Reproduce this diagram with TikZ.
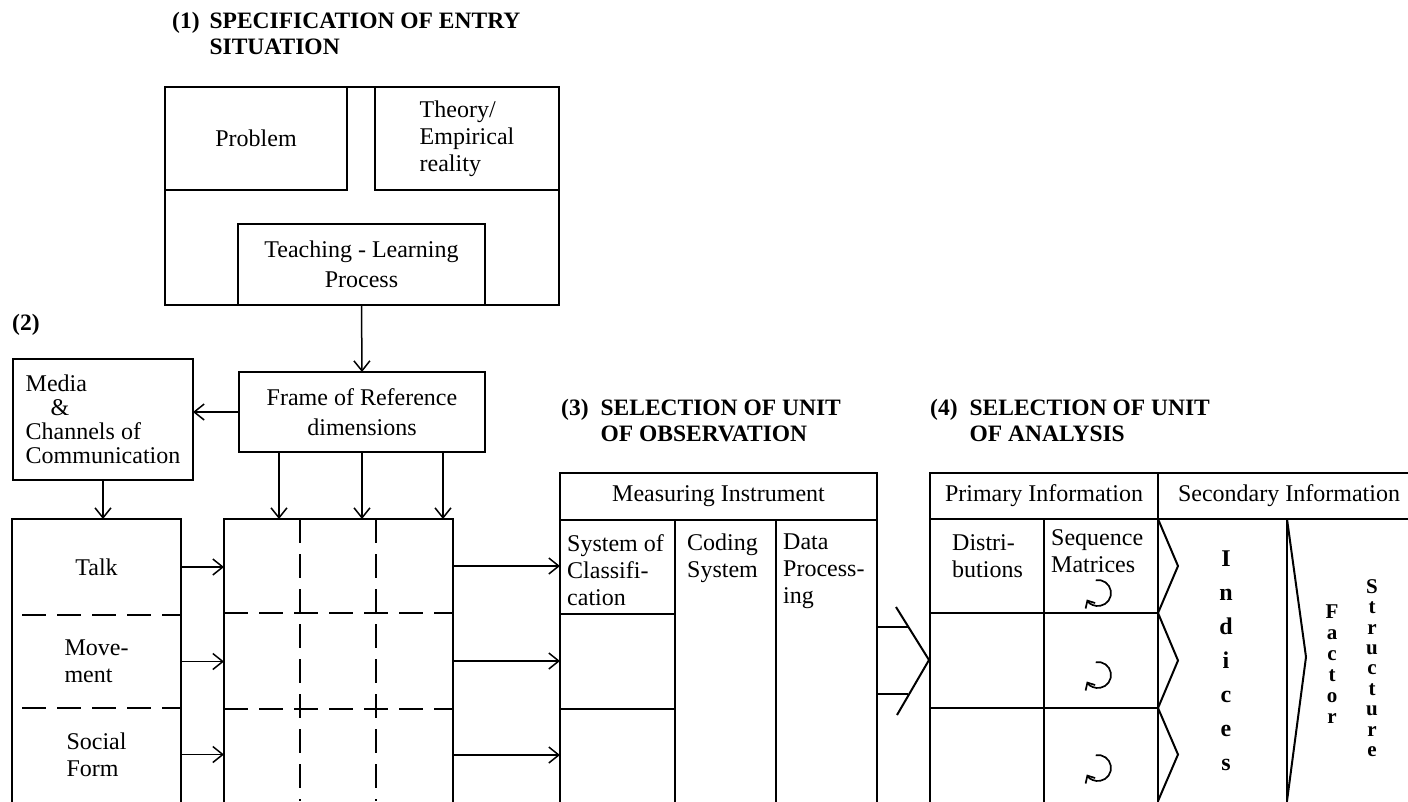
\documentclass[tikz,border=0pt]{standalone}
\usepackage{fontspec}
\setmainfont{Liberation Serif}
\usetikzlibrary{arrows.meta}
\newcommand\diagtext{\fontsize{24}{27}\selectfont}
\newcommand\diaghead{\fontsize{23.5}{26}\selectfont\bfseries}
\newcommand\diagstack[2]{\fontsize{#1}{#2}\selectfont\bfseries}

\tikzset{
  box/.style={draw, line width=2pt, inner sep=0pt, outer sep=0pt, anchor=north west, font=\diagtext, align=center},
  row/.style={box, draw=none},
  lbl/.style={font=\diagtext, align=left, inner sep=0pt, anchor=north west},
  head/.style={font=\diaghead, inner sep=0pt, anchor=base west},
  arr/.style={line width=1.5pt, -{Straight Barb[length=10pt,width=16pt]}},
  ln/.style={line width=2pt},
  dsh/.style={line width=2pt, dash pattern=on 24pt off 11pt},
}

\begin{document}
\begin{tikzpicture}[x=1pt,y=-1pt]
\useasboundingbox (0,0) rectangle (1408,801);

% (1) entry situation
\node[head] (t1) at (172,28) {\begin{tabular}[t]{@{}l@{\hspace{10pt}}l@{}}(1)&SPECIFICATION OF ENTRY\\&SITUATION\end{tabular}};
\node[box, minimum width=394, minimum height=218] (entry) at (165,87) {};
\node[box, minimum width=182, minimum height=103] (prob) at (165,87) {Problem};
\node[box, minimum width=184, minimum height=103, align=left] (theory) at (375,87) {Theory/\\Empirical\\reality};
\node[box, minimum width=247, minimum height=81] (teach) at (238,224) {Teaching - Learning\\[3pt]Process};

% (2) frame of reference
\node[head] (t2) at (12,330) {(2)};
\node[box, minimum width=246, minimum height=80] (frame) at (239,372) {Frame of Reference\\[3pt]dimensions};
\node[box, minimum width=180, minimum height=121, align=left, font=\fontsize{24}{24}\selectfont] (media) at (13,359) {Media\\\hspace{25pt}\&\\Channels of\\Communication};
\draw[arr] (teach.south) -- (frame.north);
\draw[arr] (frame.west) -- (frame.west -| media.east);

% channels
\node[box, minimum width=169, minimum height=300] (chan) at (12,519) {};
\node[row, minimum width=169, minimum height=96] (talk) at (12,519) {Talk};
\node[row, minimum width=169, minimum height=93, align=left] (move) at (12,615) {Move-\\ment};
\node[row, minimum width=169, minimum height=93, align=left] (social) at (12,708) {Social\\Form};
\draw[dsh] ([xshift=10pt]talk.south west) -- (talk.south east);
\draw[dsh] ([xshift=10pt]move.south west) -- (move.south east);
\draw[arr] (media.south) -- (media.south |- chan.north);

% dimension grid
\node[box, minimum width=229, minimum height=300] (grid) at (224,519) {};
\node[row, minimum width=229, minimum height=94] (g1) at (224,519) {};
\node[row, minimum width=229, minimum height=96] (g2) at (224,613) {};
\node[row, minimum width=229, minimum height=92] (g3) at (224,709) {};
\draw[dsh] (g1.south west) -- (g1.south east);
\draw[dsh] (g2.south west) -- (g2.south east);
\foreach \x in {300,376}
  \draw[dsh] (\x,519) -- (\x,801);
\foreach \dx in {-83,0,81}
  \draw[arr] ([xshift=\dx]frame.south) -- ([xshift=\dx]frame.south |- grid.north);
\draw[arr] (talk.east) -- (talk.east -| grid.west);
\draw[arr] (move.east) -- (move.east -| grid.west);
\draw[arr] (social.east) -- (social.east -| grid.west);

% (3) unit of observation
\node[head] (t3) at (561,415) {\begin{tabular}[t]{@{}l@{\hspace{12pt}}l@{}}(3)&SELECTION OF UNIT\\&OF OBSERVATION\end{tabular}};
\node[box, minimum width=317, minimum height=47] (meas) at (560,473) {Measuring Instrument};
\node[box, minimum width=115, minimum height=300] (cls) at (560,520) {};
\node[box, minimum width=101, minimum height=300] (cod) at (675,520) {};
\node[box, minimum width=101, minimum height=300] (dat) at (776,520) {};
\node[row, minimum width=115, minimum height=94] (c1) at (560,520) {};
\node[row, minimum width=115, minimum height=95] (c2) at (560,614) {};
\node[row, minimum width=115, minimum height=92] (c3) at (560,709) {};
\draw[ln] (c1.south west) -- (c1.south east);
\draw[ln] (c2.south west) -- (c2.south east);
\node[lbl] (clsname) at (567,534) {System of\\Classifi-\\cation};
\node[lbl] (codname) at (687,534) {Coding\\System};
\node[lbl] (datname) at (783,534) {Data\\Process-\\ing};
\draw[arr] (g1.east) -- (g1.east -| c1.west);
\draw[arr] (g2.east) -- (g2.east -| c2.west);
\draw[arr] (g3.east) -- (g3.east -| c3.west);

% fork into analysis
\coordinate (fork) at (929,660);
\draw[ln] (dat.east |- 0,627) -- +(31,0);
\draw[ln] (dat.east |- 0,694) -- +(31,0);
\draw[ln] (fork) ++(-33,-53) -- (fork) -- ++(-32,55);

% (4) unit of analysis
\node[head] (t4) at (930,415) {\begin{tabular}[t]{@{}l@{\hspace{12pt}}l@{}}(4)&SELECTION OF UNIT\\&OF ANALYSIS\end{tabular}};
\node[box, minimum width=228, minimum height=46] (prim) at (930,473) {Primary Information};
\node[box, minimum width=262, minimum height=46] (sec) at (1158,473) {Secondary Information};
\node[box, minimum width=114, minimum height=300] (dist) at (930,519) {};
\node[box, minimum width=114, minimum height=300] (seq) at (1044,519) {};
\node[box, minimum width=129, minimum height=300] (ind) at (1158,519) {};
\node[box, minimum width=133, minimum height=300] (fac) at (1287,519) {};
\node[row, minimum width=114, minimum height=94] (s1) at (1044,519) {};
\node[row, minimum width=114, minimum height=95] (s2) at (1044,613) {};
\node[row, minimum width=114, minimum height=93] (s3) at (1044,708) {};
\draw[ln] (dist.west |- s1.south) -- (s1.south east);
\draw[ln] (dist.west |- s2.south) -- (s2.south east);
\node[lbl] (distname) at (952,534) {Distri-\\butions};
\node[lbl] (seqname) at (1051,529) {Sequence\\Matrices};
\foreach \r in {s1,s2,s3}
  \draw[ln] (\r.north east) -- ([xshift=20pt]\r.east) -- (\r.south east);
\foreach \y in {593,675,768}
  \draw[line width=1.7pt, -{Straight Barb[length=6pt,width=11pt]}] (1098,\y) ++(100:13pt) arc[start angle=100, end angle=-150, radius=13pt];
\draw[ln] (fac.north west) -- (1306,657) -- (1287,801);
\node[font=\diagstack{24}{34}, align=center, inner sep=0pt] (indtxt) at (1226,661) {I\\n\\d\\i\\c\\e\\s};
\node[font=\diagstack{21}{21}, align=center, inner sep=0pt] (factxt) at (1332,664) {F\\a\\c\\t\\o\\r};
\node[font=\diagstack{21}{20.4}, align=center, inner sep=0pt] (strtxt) at (1372,668) {S\\t\\r\\u\\c\\t\\u\\r\\e};
\end{tikzpicture}
\end{document}
